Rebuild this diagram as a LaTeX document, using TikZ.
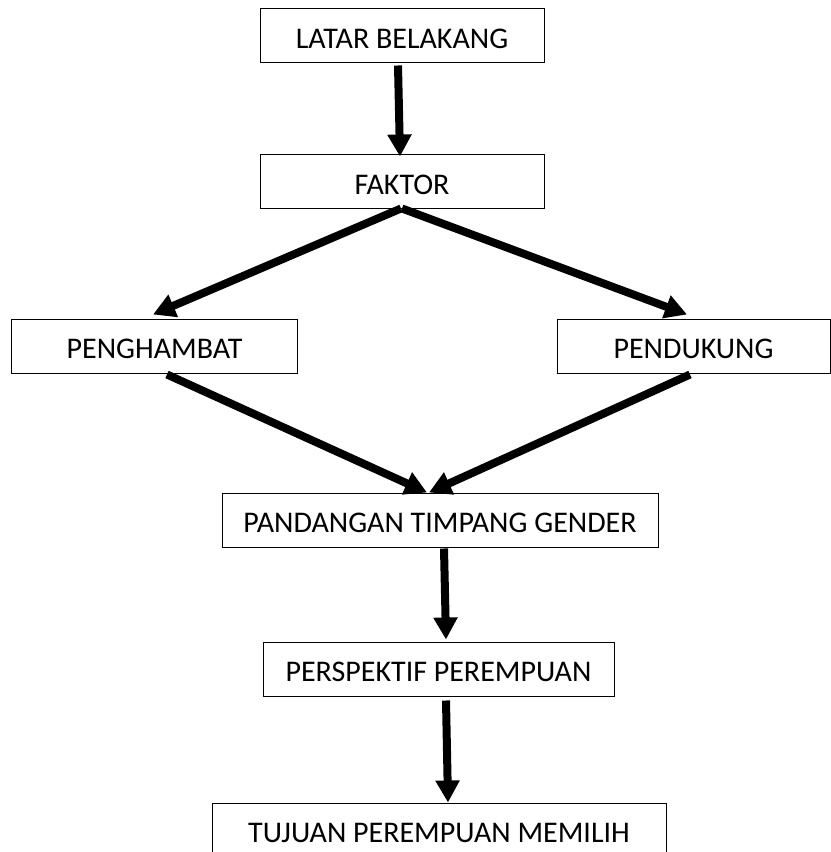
\documentclass[tikz,border=0pt]{standalone}
\usepackage{fontspec}
\setmainfont{Carlito}
\usepackage{tikz}
\usetikzlibrary{calc, arrows.meta}

\begin{document}
\begin{tikzpicture}[x=0.4pt, y=-0.4pt, >={Triangle[width=9.2pt,length=8.8pt]}, line width=3.2pt,
  box/.style={draw, rectangle, line width=0.4pt, minimum height=21.6pt, inner sep=0pt,
    text height=10.1pt, text depth=0pt, font=\fontsize{12pt}{14pt}\selectfont}]
  \useasboundingbox (0,0) rectangle (831,852);

  \node[box, minimum width=113.6pt] (latar) at (402,36) {LATAR BELAKANG};
  \node[box, minimum width=113.6pt] (faktor) at (402,182) {FAKTOR};
  \node[box, minimum width=114pt] (penghambat) at (154.5,346) {PENGHAMBAT};
  \node[box, minimum width=109.2pt] (pendukung) at (693.5,346) {PENDUKUNG};
  \node[box, minimum width=174.4pt] (pandangan) at (440,520) {PANDANGAN TIMPANG GENDER};
  \node[box, minimum width=140.4pt] (perspektif) at (438.5,669) {PERSPEKTIF PEREMPUAN};
  \node[box, minimum width=181.6pt] (tujuan) at (439,830) {TUJUAN PEREMPUAN MEMILIH};

  \path[->]
    ($(latar.south)+(-4,2)$) edge ($(faktor.north)+(-2,2)$)
    ($(faktor.south)+(-1,-1)$) edge ($(penghambat.north)+(-1.5,-4)$)
    ($(faktor.south)+(0,-1)$) edge ($(pendukung.north)+(-6.5,-4)$)
    ($(penghambat.south)+(12.5,1)$) edge ($(pandangan.north)+(-13,0)$)
    ($(pendukung.south)+(-3.5,1)$) edge ($(pandangan.north)+(-11,0)$)
    ($(pandangan.south)+(4,1)$) edge ($(perspektif.north)+(7.5,-2)$)
    ($(perspektif.south)+(7.5,4)$) edge ($(tujuan.north)+(9,0)$);

\end{tikzpicture}
\end{document}
